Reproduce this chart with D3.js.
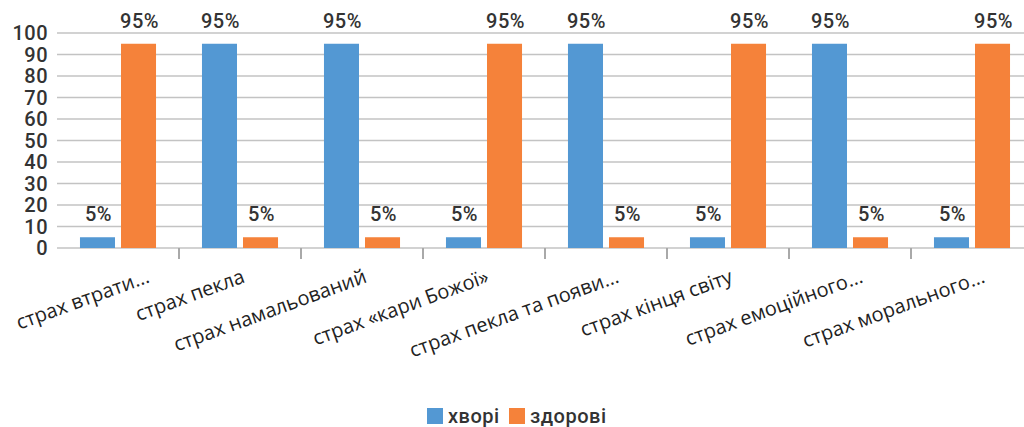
<!DOCTYPE html>
<html>
<head>
<meta charset="utf-8">
<script src="https://cdn.jsdelivr.net/npm/d3@7"></script>
<style>
  body { margin: 0; background: #fff; }
  .num { font-family: Roboto, sans-serif; font-size: 20px; font-weight: 500; fill: #333; letter-spacing: 0.5px; }
  .cat { font-family: "Open Sans", sans-serif; font-size: 20px; fill: #222; }
</style>
</head>
<body>
<svg id="chart" width="1024" height="427"></svg>
<script>
const categories = [
    "страх втрати…", "страх пекла", "страх намальований", "страх «кари Божої»",
    "страх пекла та появи…", "страх кінця світу", "страх емоційного…", "страх морального…"
];
const seriesNames = ["хворі", "здорові"];
const sick = [5, 95, 95, 5, 95, 5, 95, 5];
const healthy = [95, 5, 5, 95, 5, 95, 5, 95];
const yTicks = [0, 10, 20, 30, 40, 50, 60, 70, 80, 90, 100];
const colors = ["#5398d3", "#f5823a"];

const rows = categories.map((c, i) => ({cat: c, values: [sick[i], healthy[i]]}));

const svg = d3.select("#chart");

const x = d3.scaleBand()
    .domain(categories)
    .range([57, 1033]);

const xs = d3.scaleBand()
    .domain([0, 1])
    .range([0, x.bandwidth()])
    .paddingInner(0.146)
    .paddingOuter(0.56);

const y = d3.scaleLinear()
    .domain([0, 100])
    .range([248, 33]);

// gridlines
svg.append("g")
    .selectAll("line")
    .data(yTicks)
    .enter()
    .append("line")
    .attr("x1", 57)
    .attr("x2", 1033)
    .attr("y1", d => y(d))
    .attr("y2", d => y(d))
    .attr("stroke", "#c3c3c3")
    .attr("stroke-width", 1.4);

// y labels
svg.append("g")
    .selectAll("text")
    .data(yTicks)
    .enter()
    .append("text")
    .attr("class", "num")
    .attr("x", 48)
    .attr("y", d => y(d))
    .attr("dy", "0.36em")
    .attr("text-anchor", "end")
    .text(d => d);

// category tick marks
svg.append("g")
    .selectAll("line")
    .data(categories.slice(1))
    .enter()
    .append("line")
    .attr("x1", d => x(d))
    .attr("x2", d => x(d))
    .attr("y1", 248)
    .attr("y2", 259)
    .attr("stroke", "#a9a9a9")
    .attr("stroke-width", 2);

const groups = svg.selectAll(".grp")
    .data(rows)
    .enter()
    .append("g")
    .attr("class", "grp")
    .attr("transform", d => "translate(" + x(d.cat) + ",0)");

groups.selectAll("rect")
    .data(d => d.values)
    .enter()
    .append("rect")
    .attr("x", (d, i) => xs(i))
    .attr("width", xs.bandwidth())
    .attr("y", d => y(d))
    .attr("height", d => y(0) - y(d))
    .attr("fill", (d, i) => colors[i]);

groups.selectAll("text")
    .data(d => d.values)
    .enter()
    .append("text")
    .attr("class", "num")
    .attr("x", (d, i) => xs(i) + xs.bandwidth() / 2 + 1)
    .attr("y", d => y(d) - 16)
    .attr("text-anchor", "middle")
    .text(d => d + "%");

// category labels (truncated ones sit a little further right, as in excel)
const catLabels = svg.append("g")
    .selectAll("text")
    .data(categories)
    .enter()
    .append("text")
    .attr("class", "cat")
    .attr("text-anchor", "end")
    .text(d => d);

catLabels.each(function(d) {
    const el = d3.select(this);
    let px = x(d) + x.bandwidth() / 2 + (d.endsWith("…") ? 14 : 6);
    const place = () => el.attr("transform", "translate(" + px + ",282) rotate(-20)");
    place();
    // keep labels inside the left edge
    const left = this.getBoundingClientRect().left;
    if (left < 12) {
        px += 12 - left;
        place();
    }
});

// legend
const legend = svg.append("g").attr("transform", "translate(427,408)");
const legendX = [0, 82];
seriesNames.forEach((name, i) => {
    legend.append("rect")
        .attr("x", legendX[i])
        .attr("y", 0)
        .attr("width", 16)
        .attr("height", 16)
        .attr("fill", colors[i]);
    legend.append("text")
        .attr("class", "num")
        .attr("x", legendX[i] + 21)
        .attr("y", 15)
        .text(name);
});
</script>
</body>
</html>
